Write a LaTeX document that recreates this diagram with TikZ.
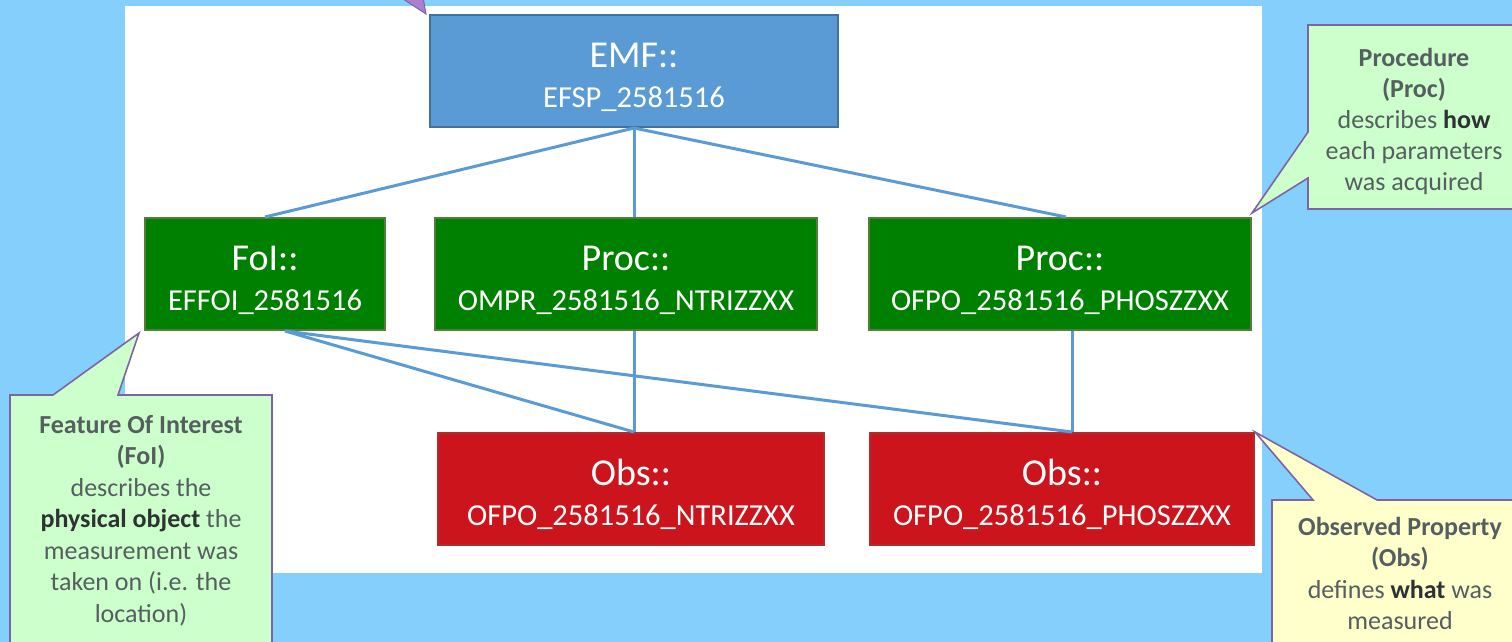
\documentclass[tikz,border=0pt]{standalone}
\usepackage{fontspec}
\setmainfont{Carlito}
\usetikzlibrary{positioning}

\definecolor{slidebg}{RGB}{132,207,252}
\definecolor{emfblue}{RGB}{91,155,213}
\definecolor{emfedge}{RGB}{65,113,156}
\definecolor{procgreen}{RGB}{0,128,0}
\definecolor{procedge}{RGB}{84,125,60}
\definecolor{obsred}{RGB}{204,20,28}
\definecolor{obsedge}{RGB}{175,45,45}
\definecolor{linkblue}{RGB}{91,155,213}
\definecolor{notegreen}{RGB}{204,255,204}
\definecolor{noteyellow}{RGB}{255,255,204}
\definecolor{noteedge}{RGB}{128,100,162}
\definecolor{notegrey}{RGB}{85,95,95}
\definecolor{notedark}{RGB}{45,50,50}
\definecolor{tipfill}{RGB}{168,128,206}

\newcommand{\headline}[1]{\rule{0pt}{37pt}#1}
\newcommand{\idline}[1]{{\fontsize{30.5}{40}\selectfont #1}}
\newcommand{\keyword}[1]{\textbf{\color{notedark}#1}}

\tikzstyle{box} = [draw, line width=2pt, text=white, inner sep=0pt, minimum height=112pt, align=center, font=\fontsize{38}{40}\selectfont]
\tikzstyle{emfbox} = [box, fill=emfblue, draw=emfedge, minimum width=408pt]
\tikzstyle{procbox} = [box, fill=procgreen, draw=procedge]
\tikzstyle{obsbox} = [box, fill=obsred, draw=obsedge]
\tikzstyle{link} = [draw=linkblue, line width=3pt]
\tikzstyle{note} = [draw=noteedge, line width=1.6pt, line join=miter]
\tikzstyle{notetext} = [text=notegrey, align=center, inner sep=0pt, font=\fontsize{26}{31.5}\selectfont]

\begin{document}
\begin{tikzpicture}[x=1pt, y=-1pt]
	\clip (0,0) rectangle (1512,642);
	\fill[slidebg] (0,0) rectangle (1512,642);
	\fill[white] (125,6) rectangle (1262,573);

	\node[emfbox] (EMF) at (634,71) {\headline{EMF::}\\\idline{EFSP\_2581516}};
	\node[procbox, minimum width=240pt] (FoI) at (265,274) {\headline{FoI::}\\\idline{EFFOI\_2581516}};
	\node[procbox, minimum width=382pt, right=48pt of FoI] (ProcA) {\headline{Proc::}\\\idline{OMPR\_2581516\_NTRIZZXX}};
	\node[procbox, minimum width=382pt, right=50pt of ProcA] (ProcB) {\headline{Proc::}\\\idline{OFPO\_2581516\_PHOSZZXX}};
	\node[obsbox, minimum width=386pt] (ObsA) at (631,489) {\headline{Obs::}\\\idline{OFPO\_2581516\_NTRIZZXX}};
	\node[obsbox, minimum width=384pt, right=44pt of ObsA] (ObsB) {\headline{Obs::}\\\idline{OFPO\_2581516\_PHOSZZXX}};

	\coordinate (obsajoin) at (EMF.south |- ObsA.north);
	\coordinate (obsbjoin) at ([xshift=10pt]ObsB.north);
	\coordinate (foifoot) at ([xshift=20pt]FoI.south);

	% links
	\path[link] (EMF.south) -- (FoI.north);
	\path[link] (EMF.south) -- (EMF.south |- ProcA.north);
	\path[link] (EMF.south) -- ([xshift=6pt]ProcB.north);
	\path[link] (ProcA.south -| EMF.south) -- (obsajoin);
	\path[link] (obsbjoin |- ProcB.south) -- (obsbjoin);
	\path[link] (foifoot) -- (obsajoin);
	\path[link] (foifoot) -- (obsbjoin);

	% callouts
	\draw[note, fill=tipfill, line width=1pt] (400,-3) -- ([shift={(-3,0)}]EMF.north west) -- (423,-3);
	\draw[note, fill=notegreen] (10,395) -- (53,395) -- ([shift={(-5,2)}]FoI.south west) -- (118,395) -- (272,395) -- (272,660) -- (10,660) -- cycle;
	\draw[note, fill=notegreen] (1308,25) -- (1520,25) -- (1520,209) -- (1308,209) -- (1308,178) -- ([shift={(0,-4)}]ProcB.north east) -- (1308,132) -- cycle;
	\draw[note, fill=noteyellow] (1272,500) -- (1313,500) -- (ObsB.north east) -- (1377,500) -- (1520,500) -- (1520,660) -- (1272,660) -- cycle;

	\node[notetext, anchor=north] (foinote) at (141,415) {\textbf{Feature Of Interest}\\\textbf{(FoI)}\\describes the\\\keyword{physical object} the\\measurement was\\taken on (i.e. the\\location)};
	\node[notetext, anchor=north, font=\fontsize{26}{31}\selectfont] (procnote) at (1414,48) {\textbf{Procedure}\\\textbf{(Proc)}\\describes \keyword{how}\\each parameters\\was acquired};
	\node[notetext, anchor=north] (obsnote) at (1400,517) {\textbf{Observed Property}\\\textbf{(Obs)}\\defines \keyword{what} was\\measured};
\end{tikzpicture}
\end{document}
